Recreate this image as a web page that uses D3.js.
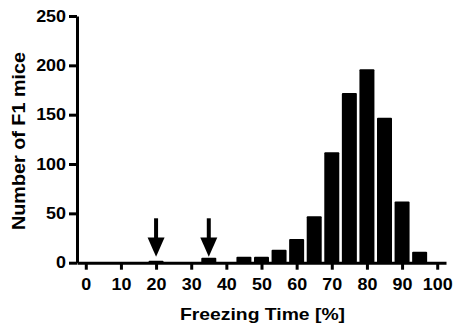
<!DOCTYPE html>
<html>
<head>
<meta charset="utf-8">
<script src="https://cdn.jsdelivr.net/npm/d3@7"></script>
<style>
  body { margin: 0; background: #fff; }
  svg text { font-family: "Liberation Sans", Arial, sans-serif; font-weight: bold; fill: #000; }
</style>
</head>
<body>
<svg id="chart" width="453" height="325"></svg>
<script>
// histogram bins (centre of each 5% bin) and counts
var binCentres = [0, 5, 10, 15, 20, 25, 30, 35, 40, 45, 50, 55, 60, 65, 70, 75, 80, 85, 90, 95, 100];
var binCounts  = [0, 0, 0, 0, 2, 0, 0, 5, 0, 6, 6, 13, 24, 47, 112, 172, 196, 147, 62, 11, 0];
var xTicks = [0, 10, 20, 30, 40, 50, 60, 70, 80, 90, 100];
var yTicks = [0, 50, 100, 150, 200, 250];
var arrowAt = [20, 35];

const svg = d3.select("#chart");

const x = d3.scaleLinear()
    .domain([-2.5, 102.5])
    .range([77, 446]);

const y = d3.scaleLinear()
    .domain([0, 250])
    .range([262.7, 16]);

// the original export is a bit wider than tall, stretch the glyphs to match
var stretch = 1.12;

// bars
var barW = 15;
svg.append("g")
  .selectAll("rect")
  .data(binCentres.map((c, i) => ({c: c, n: binCounts[i]})).filter(d => d.n > 0))
  .enter()
  .append("rect")
    .attr("x", d => x(d.c) - barW / 2)
    .attr("y", d => y(d.n))
    .attr("width", barW)
    .attr("height", d => y(0) - y(d.n))
    .attr("rx", 1)
    .attr("fill", "#000");

// x axis
const xAxis = svg.append("g")
    .attr("transform", `translate(0, ${y(0)})`)
    .call(d3.axisBottom(x).tickValues(xTicks).tickSize(7).tickPadding(9).tickSizeOuter(0));
xAxis.select(".domain").attr("stroke-width", 3);
xAxis.selectAll(".tick line").attr("stroke-width", 3);
xAxis.selectAll("text")
    .attr("transform", `scale(${stretch},1)`)
    .style("font-size", "16px")
    .style("font-family", "Liberation Sans, Arial, sans-serif")
    .style("font-weight", "bold");

// y axis
const yAxis = svg.append("g")
    .attr("transform", `translate(${x(-2.5)}, 0)`)
    .call(d3.axisLeft(y).tickValues(yTicks).tickSize(8).tickPadding(3).tickSizeOuter(0));
yAxis.select(".domain").attr("stroke-width", 3);
yAxis.selectAll(".tick line").attr("stroke-width", 3);
yAxis.selectAll("text")
    .attr("x", -11 / stretch)
    .attr("transform", `scale(${stretch},1)`)
    .style("font-size", "16px")
    .style("font-family", "Liberation Sans, Arial, sans-serif")
    .style("font-weight", "bold");

// arrows marking selected bins
arrowAt.forEach(function(a) {
  var cx = x(a), top = y(45), headTop = y(25.5), tip = y(6);
  svg.append("line")
      .attr("x1", cx).attr("x2", cx)
      .attr("y1", top).attr("y2", headTop + 1)
      .attr("stroke", "#000")
      .attr("stroke-width", 4);
  svg.append("path")
      .attr("d", `M${cx - 8.5},${headTop} L${cx + 8.5},${headTop} L${cx},${tip} Z`)
      .attr("fill", "#000");
});

// axis labels
svg.append("text")
    .attr("x", 262.5)
    .attr("y", 320)
    .attr("text-anchor", "middle")
    .attr("textLength", 165)
    .attr("lengthAdjust", "spacingAndGlyphs")
    .style("font-size", "17px")
    .text("Freezing Time [%]");

svg.append("text")
    .attr("transform", "translate(25, 141) rotate(-90)")
    .attr("text-anchor", "middle")
    .attr("textLength", 178)
    .attr("lengthAdjust", "spacingAndGlyphs")
    .style("font-size", "18px")
    .text("Number of F1 mice");
</script>
</body>
</html>
